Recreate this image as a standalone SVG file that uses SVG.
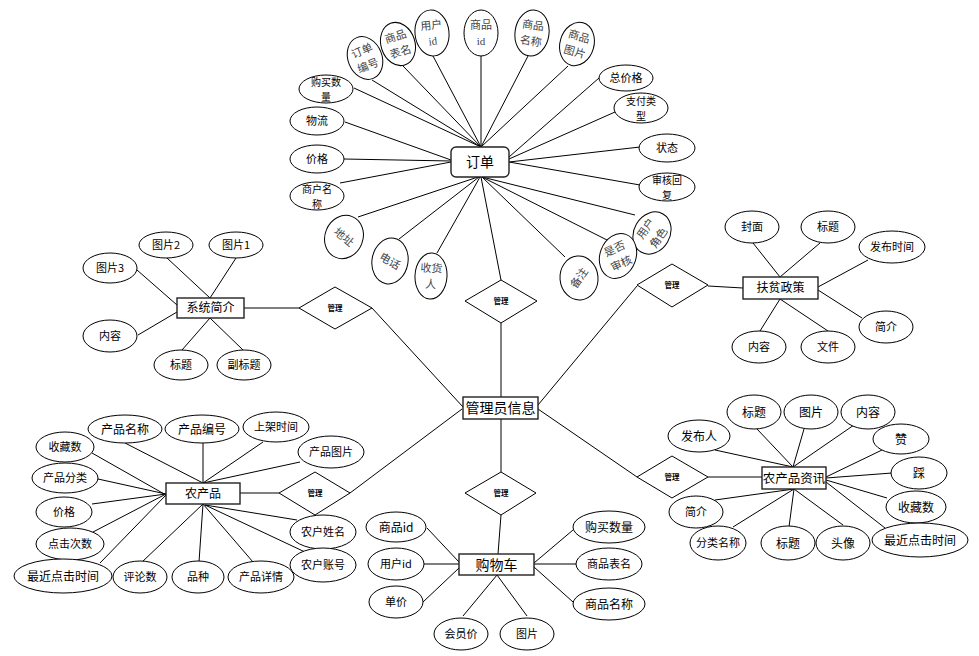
<svg xmlns="http://www.w3.org/2000/svg" width="979" height="656" viewBox="0 0 979 656">
<style>
.e{fill:#fff;stroke:#000;stroke-width:1}
.b{fill:#fff;stroke:#222;stroke-width:1.4}
.d{fill:#fff;stroke:#000;stroke-width:1}
.c line{stroke:#000;stroke-width:1}
text{font-family:"Noto Sans CJK SC","Liberation Sans",sans-serif;text-anchor:middle;fill:#000}
.s{font-size:11px}
.t{font-size:10px}
.m{font-size:12px}
.l{font-size:14px}
.g{font-family:"Liberation Serif","Noto Sans CJK SC",serif;font-size:11px;fill:#444}
.r{font-size:7.5px;font-weight:bold}
</style>
<rect width="979" height="656" fill="#fff"/>
<g id="connectors" class="c">
<line x1="372" y1="80" x2="481" y2="147"/>
<line x1="403" y1="66" x2="481" y2="147"/>
<line x1="433" y1="56" x2="481" y2="147"/>
<line x1="481" y1="56" x2="481" y2="147"/>
<line x1="528" y1="56" x2="481" y2="147"/>
<line x1="568" y1="66" x2="481" y2="147"/>
<line x1="354" y1="88" x2="481" y2="147"/>
<line x1="345" y1="122" x2="451" y2="160"/>
<line x1="344" y1="159" x2="451" y2="161"/>
<line x1="340" y1="183" x2="451" y2="162"/>
<line x1="599" y1="78" x2="509" y2="157"/>
<line x1="615" y1="112" x2="509" y2="159"/>
<line x1="640" y1="147" x2="509" y2="162"/>
<line x1="640" y1="185" x2="509" y2="162"/>
<line x1="635" y1="215" x2="482" y2="177"/>
<line x1="607" y1="240" x2="482" y2="177"/>
<line x1="565" y1="257" x2="482" y2="177"/>
<line x1="358" y1="217" x2="478" y2="177"/>
<line x1="399" y1="239" x2="479" y2="177"/>
<line x1="437" y1="253" x2="480" y2="177"/>
<line x1="481" y1="177" x2="501" y2="280"/>
<line x1="501" y1="323" x2="501" y2="397"/>
<line x1="167" y1="258" x2="210" y2="298"/>
<line x1="236" y1="258" x2="210" y2="298"/>
<line x1="137" y1="270" x2="177" y2="305"/>
<line x1="138" y1="335" x2="177" y2="312"/>
<line x1="182" y1="350" x2="210" y2="318"/>
<line x1="243" y1="350" x2="210" y2="318"/>
<line x1="244" y1="308" x2="299" y2="308"/>
<line x1="372" y1="308" x2="463" y2="407"/>
<line x1="753" y1="243" x2="780" y2="277"/>
<line x1="820" y1="243" x2="780" y2="277"/>
<line x1="868" y1="260" x2="818" y2="287"/>
<line x1="862" y1="318" x2="818" y2="290"/>
<line x1="760" y1="331" x2="780" y2="299"/>
<line x1="828" y1="331" x2="780" y2="299"/>
<line x1="708" y1="286" x2="743" y2="288"/>
<line x1="637" y1="286" x2="538" y2="405"/>
<line x1="125" y1="443" x2="203" y2="483"/>
<line x1="203" y1="443" x2="203" y2="483"/>
<line x1="263" y1="442" x2="203" y2="483"/>
<line x1="300" y1="462" x2="203" y2="483"/>
<line x1="92" y1="453" x2="166" y2="495"/>
<line x1="98" y1="479" x2="166" y2="494"/>
<line x1="92" y1="504" x2="166" y2="494"/>
<line x1="93" y1="532" x2="166" y2="494"/>
<line x1="100" y1="563" x2="166" y2="495"/>
<line x1="142" y1="562" x2="203" y2="504"/>
<line x1="199" y1="562" x2="203" y2="504"/>
<line x1="253" y1="562" x2="203" y2="504"/>
<line x1="297" y1="520" x2="205" y2="505"/>
<line x1="305" y1="552" x2="205" y2="505"/>
<line x1="240" y1="493" x2="279" y2="493"/>
<line x1="350" y1="493" x2="462" y2="409"/>
<line x1="757" y1="429" x2="793" y2="467"/>
<line x1="804" y1="429" x2="793" y2="467"/>
<line x1="854" y1="425" x2="793" y2="467"/>
<line x1="715" y1="450" x2="793" y2="467"/>
<line x1="882" y1="450" x2="826" y2="477"/>
<line x1="892" y1="473" x2="826" y2="478"/>
<line x1="887" y1="498" x2="826" y2="480"/>
<line x1="885" y1="528" x2="826" y2="482"/>
<line x1="715" y1="500" x2="794" y2="489"/>
<line x1="733" y1="527" x2="794" y2="489"/>
<line x1="789" y1="527" x2="794" y2="489"/>
<line x1="843" y1="525" x2="794" y2="489"/>
<line x1="708" y1="477" x2="762" y2="477"/>
<line x1="637" y1="477" x2="538" y2="409"/>
<line x1="501" y1="419" x2="501" y2="472"/>
<line x1="501" y1="515" x2="498" y2="554"/>
<line x1="427" y1="528" x2="459" y2="562"/>
<line x1="424" y1="564" x2="459" y2="564" style="stroke:#555;stroke-width:1.6"/>
<line x1="423" y1="602" x2="459" y2="568"/>
<line x1="463" y1="616" x2="497" y2="575"/>
<line x1="527" y1="616" x2="497" y2="575"/>
<line x1="573" y1="530" x2="534" y2="563"/>
<line x1="576" y1="564" x2="534" y2="564" style="stroke:#555;stroke-width:1.6"/>
<line x1="573" y1="602" x2="534" y2="567"/>
</g>

<g id="order">
<rect x="451" y="147" width="58" height="30" rx="5" class="b"/>
<text x="480" y="167" class="l">订单</text>
</g>
<g id="o-ddbh" transform="translate(365,58) rotate(-22)">
<ellipse rx="17" ry="22" class="e"/>
<text class="g" y="-4">订单</text><text class="g" y="12">编号</text>
</g>
<g id="o-spbm" transform="translate(398,44) rotate(-18)">
<ellipse rx="17" ry="22" class="e"/>
<text class="g" y="-4">商品</text><text class="g" y="12">表名</text>
</g>
<g id="o-yhid" transform="translate(432,33) rotate(-6)">
<ellipse rx="17" ry="23" class="e"/>
<text class="g" y="-4">用户</text><text class="g" y="12">id</text>
</g>
<g id="o-spid" transform="translate(481,33)">
<ellipse rx="17" ry="23" class="e"/>
<text class="g" y="-4">商品</text><text class="g" y="12">id</text>
</g>
<g id="o-spmc" transform="translate(532,33) rotate(8)">
<ellipse rx="17" ry="23" class="e"/>
<text class="g" y="-4">商品</text><text class="g" y="12">名称</text>
</g>
<g id="o-sptp" transform="translate(577,44) rotate(16)">
<ellipse rx="17" ry="22" class="e"/>
<text class="g" y="-4">商品</text><text class="g" y="12">图片</text>
</g>
<g id="o-gmsl" transform="translate(326,89)">
<ellipse rx="27" ry="14" class="e"/>
<text class="t" y="-3">购买数</text><text class="t" y="11.5">量</text>
</g>
<g id="o-wl" transform="translate(317,121)">
<ellipse rx="27" ry="14" class="e"/>
<text class="s" y="4">物流</text>
</g>
<g id="o-jg" transform="translate(317,159)">
<ellipse rx="27" ry="14" class="e"/>
<text class="s" y="4">价格</text>
</g>
<g id="o-shmc" transform="translate(317,196)">
<ellipse rx="27" ry="14" class="e"/>
<text class="t" y="-3">商户名</text><text class="t" y="11.5">称</text>
</g>
<g id="o-zjg" transform="translate(626,78)">
<ellipse rx="27" ry="13" class="e"/>
<text class="s" y="4">总价格</text>
</g>
<g id="o-zflx" transform="translate(641,108)">
<ellipse rx="27" ry="15" class="e"/>
<text class="t" y="-3">支付类</text><text class="t" y="11.5">型</text>
</g>
<g id="o-zt" transform="translate(667,148)">
<ellipse rx="28" ry="14" class="e"/>
<text class="s" y="4">状态</text>
</g>
<g id="o-shhf" transform="translate(667,187)">
<ellipse rx="28" ry="14" class="e"/>
<text class="t" y="-3">审核回</text><text class="t" y="11.5">复</text>
</g>
<g id="o-yhjs" transform="translate(652,233) rotate(30)">
<ellipse rx="18" ry="22" class="e"/>
<g transform="rotate(-85)"><text class="g" y="-4">用户</text><text class="g" y="12">角色</text></g>
</g>
<g id="o-sfsh" transform="translate(618,256) rotate(20)">
<ellipse rx="18" ry="23" class="e"/>
<g transform="rotate(-45)"><text class="g" y="-4">是否</text><text class="g" y="12">审核</text></g>
</g>
<g id="o-bz" transform="translate(579,278) rotate(-5)">
<ellipse rx="19" ry="22" class="e"/>
<g transform="rotate(-50)"><text class="g" y="4">备注</text></g>
</g>
<g id="o-shr" transform="translate(431,276) rotate(3)">
<ellipse rx="16" ry="23" class="e"/>
<text class="g" y="-4">收货</text><text class="g" y="12">人</text>
</g>
<g id="o-dh" transform="translate(390,261) rotate(10)">
<ellipse rx="18" ry="23" class="e"/>
<g transform="rotate(20)"><text class="g" y="4">电话</text></g>
</g>
<g id="o-dz" transform="translate(344,237) rotate(22)">
<ellipse rx="19" ry="22" class="e"/>
<g transform="rotate(18)"><text class="g" y="4">地址</text></g>
</g>
<g id="rel-order">
<polygon points="501,280 537,301 501,323 465,301" class="d"/>
<text class="r" x="501" y="304">管理</text>
</g>

<g id="admin">
<rect x="463" y="397" width="75" height="22" class="b"/>
<text x="500.5" y="413" class="l">管理员信息</text>
</g>

<g id="sys">
<rect x="177" y="298" width="67" height="20" class="b"/>
<text x="210.5" y="312" class="m">系统简介</text>
</g>
<g id="sys-tp2"><ellipse cx="166" cy="245" rx="27" ry="13" class="e"/><text x="166" y="249" class="s">图片2</text></g>
<g id="sys-tp1"><ellipse cx="236" cy="245" rx="27" ry="13" class="e"/><text x="236" y="249" class="s">图片1</text></g>
<g id="sys-tp3"><ellipse cx="110" cy="268" rx="27" ry="15" class="e"/><text x="110" y="272" class="s">图片3</text></g>
<g id="sys-nr"><ellipse cx="110" cy="336" rx="27" ry="16" class="e"/><text x="110" y="340" class="s">内容</text></g>
<g id="sys-bt"><ellipse cx="181" cy="365" rx="27" ry="15" class="e"/><text x="181" y="369" class="s">标题</text></g>
<g id="sys-fbt"><ellipse cx="244" cy="365" rx="27" ry="15" class="e"/><text x="244" y="369" class="s">副标题</text></g>
<g id="rel-sys">
<polygon points="335,287 372,308 335,329 299,308" class="d"/>
<text class="r" x="335" y="311">管理</text>
</g>

<g id="policy">
<rect x="743" y="277" width="75" height="22" class="b"/>
<text x="780.5" y="292" class="m">扶贫政策</text>
</g>
<g id="p-fm"><ellipse cx="752" cy="227" rx="27" ry="16" class="e"/><text x="752" y="231" class="s">封面</text></g>
<g id="p-bt"><ellipse cx="828" cy="227" rx="27" ry="16" class="e"/><text x="828" y="231" class="s">标题</text></g>
<g id="p-fbsj"><ellipse cx="892" cy="247" rx="33" ry="16" class="e"/><text x="892" y="251" class="s">发布时间</text></g>
<g id="p-jj"><ellipse cx="886" cy="327" rx="27" ry="16" class="e"/><text x="886" y="331" class="s">简介</text></g>
<g id="p-nr"><ellipse cx="759" cy="347" rx="27" ry="16" class="e"/><text x="759" y="351" class="s">内容</text></g>
<g id="p-wj"><ellipse cx="828" cy="347" rx="27" ry="16" class="e"/><text x="828" y="351" class="s">文件</text></g>
<g id="rel-policy">
<polygon points="672,264 708,285 672,307 637,285" class="d"/>
<text class="r" x="672" y="288">管理</text>
</g>

<g id="product">
<rect x="166" y="483" width="74" height="21" class="b"/>
<text x="203" y="498" class="m">农产品</text>
</g>
<g id="pr-cpmc"><ellipse cx="125" cy="429" rx="37" ry="14" class="e"/><text x="125" y="433.5" class="m">产品名称</text></g>
<g id="pr-cpbh"><ellipse cx="202" cy="429" rx="37" ry="14" class="e"/><text x="202" y="433.5" class="m">产品编号</text></g>
<g id="pr-sjsj"><ellipse cx="276" cy="427" rx="33" ry="15" class="e"/><text x="276" y="431" class="s">上架时间</text></g>
<g id="pr-cptp"><ellipse cx="331" cy="452" rx="33" ry="16" class="e"/><text x="331" y="456" class="s">产品图片</text></g>
<g id="pr-scs"><ellipse cx="65" cy="447" rx="29" ry="15" class="e"/><text x="65" y="451" class="s">收藏数</text></g>
<g id="pr-cpfl"><ellipse cx="65" cy="478" rx="33" ry="15" class="e"/><text x="65" y="482" class="s">产品分类</text></g>
<g id="pr-jg"><ellipse cx="64" cy="512" rx="28" ry="15" class="e"/><text x="64" y="516" class="s">价格</text></g>
<g id="pr-djcs"><ellipse cx="70" cy="544" rx="34" ry="16" class="e"/><text x="70" y="548" class="s">点击次数</text></g>
<g id="pr-zjdjsj"><ellipse cx="63" cy="576" rx="49" ry="17" class="e"/><text x="63" y="580.5" class="m">最近点击时间</text></g>
<g id="pr-pls"><ellipse cx="140" cy="577" rx="27" ry="16" class="e"/><text x="140" y="581" class="s">评论数</text></g>
<g id="pr-pz"><ellipse cx="198" cy="577" rx="26" ry="16" class="e"/><text x="198" y="581" class="s">品种</text></g>
<g id="pr-cpxq"><ellipse cx="261" cy="577" rx="33" ry="16" class="e"/><text x="261" y="581" class="s">产品详情</text></g>
<g id="pr-nhxm"><ellipse cx="323" cy="532" rx="33" ry="17" class="e"/><text x="323" y="536" class="s">农户姓名</text></g>
<g id="pr-nhzh"><ellipse cx="323" cy="565" rx="33" ry="17" class="e"/><text x="323" y="569" class="s">农户账号</text></g>
<g id="rel-product">
<polygon points="315,472 350,493 315,515 279,493" class="d"/>
<text class="r" x="315" y="496">管理</text>
</g>

<g id="news">
<rect x="762" y="467" width="64" height="22" class="b"/>
<text x="794" y="482.5" style="font-size:12.5px">农产品资讯</text>
</g>
<g id="n-bt"><ellipse cx="754" cy="412" rx="27" ry="17" class="e"/><text x="754" y="416.5" class="m">标题</text></g>
<g id="n-tp"><ellipse cx="811" cy="412" rx="27" ry="17" class="e"/><text x="811" y="416.5" class="m">图片</text></g>
<g id="n-nr"><ellipse cx="868" cy="412" rx="27" ry="17" class="e"/><text x="868" y="416.5" class="m">内容</text></g>
<g id="n-fbr"><ellipse cx="699" cy="436" rx="31" ry="16" class="e"/><text x="699" y="440.5" class="m">发布人</text></g>
<g id="n-z"><ellipse cx="901" cy="439" rx="28" ry="15" class="e"/><text x="901" y="443.5" class="m">赞</text></g>
<g id="n-c"><ellipse cx="919" cy="473" rx="28" ry="16" class="e"/><text x="919" y="477.5" class="m">踩</text></g>
<g id="n-scs"><ellipse cx="916" cy="507" rx="30" ry="16" class="e"/><text x="916" y="511.5" class="m">收藏数</text></g>
<g id="n-zjdjsj"><ellipse cx="920" cy="540" rx="48" ry="17" class="e"/><text x="920" y="544.5" class="m">最近点击时间</text></g>
<g id="n-jj"><ellipse cx="696" cy="512" rx="27" ry="16" class="e"/><text x="696" y="516" class="s">简介</text></g>
<g id="n-flmc"><ellipse cx="718" cy="543" rx="28" ry="17" class="e"/><text x="718" y="547" class="s">分类名称</text></g>
<g id="n-bt2"><ellipse cx="788" cy="543" rx="27" ry="17" class="e"/><text x="788" y="547.5" class="m">标题</text></g>
<g id="n-tx"><ellipse cx="843" cy="543" rx="27" ry="17" class="e"/><text x="843" y="547.5" class="m">头像</text></g>
<g id="rel-news">
<polygon points="672,456 708,477 672,498 637,477" class="d"/>
<text class="r" x="672" y="480">管理</text>
</g>

<g id="cart">
<rect x="459" y="554" width="75" height="21" class="b"/>
<text x="496.5" y="569.5" class="l">购物车</text>
</g>
<g id="c-spid"><ellipse cx="396" cy="527" rx="30" ry="15" class="e"/><text x="396" y="531.5" class="m">商品id</text></g>
<g id="c-yhid"><ellipse cx="396" cy="564" rx="28" ry="16" class="e"/><text x="396" y="568" class="s">用户id</text></g>
<g id="c-dj"><ellipse cx="396" cy="602" rx="27" ry="16" class="e"/><text x="396" y="606" class="s">单价</text></g>
<g id="c-hyj"><ellipse cx="461" cy="634" rx="27" ry="16" class="e"/><text x="461" y="638" class="s">会员价</text></g>
<g id="c-tp"><ellipse cx="527" cy="634" rx="27" ry="16" class="e"/><text x="527" y="638" class="s">图片</text></g>
<g id="c-gmsl"><ellipse cx="609" cy="527" rx="36" ry="16" class="e"/><text x="609" y="531.5" class="m">购买数量</text></g>
<g id="c-spbm"><ellipse cx="609" cy="564" rx="33" ry="16" class="e"/><text x="609" y="568" class="s">商品表名</text></g>
<g id="c-spmc"><ellipse cx="609" cy="604" rx="36" ry="16" class="e"/><text x="609" y="608.5" class="m">商品名称</text></g>
<g id="rel-cart">
<polygon points="501,472 536,493 501,515 465,493" class="d"/>
<text class="r" x="501" y="496">管理</text>
</g>
</svg>
